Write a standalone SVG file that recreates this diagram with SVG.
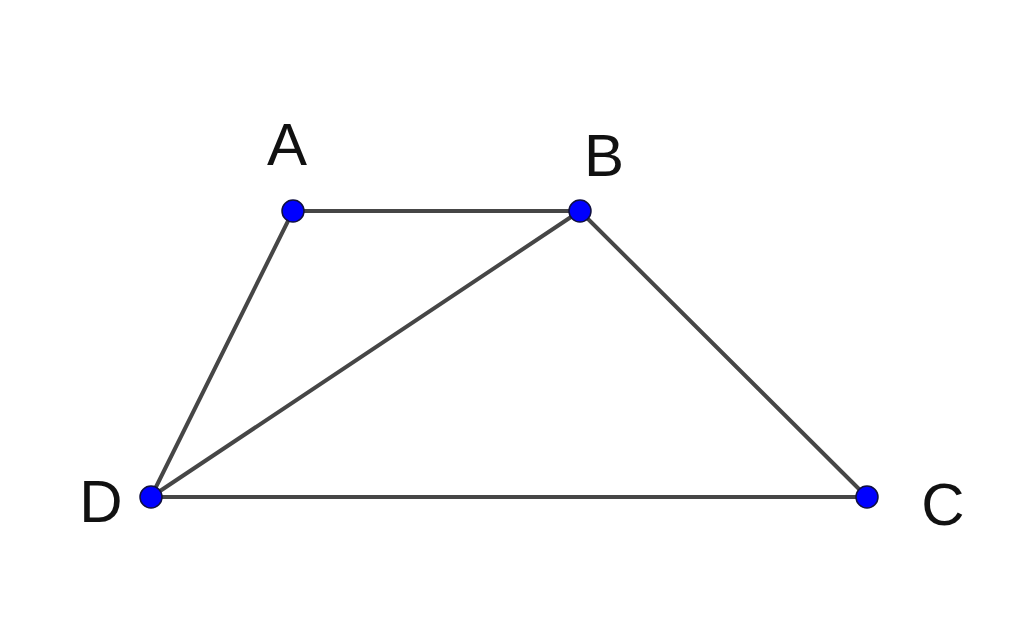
<svg xmlns="http://www.w3.org/2000/svg" width="1024" height="621" viewBox="0 0 1024 621">
<style>
.edge{stroke:#464646;stroke-width:4;fill:none;stroke-linecap:round}
.pt{fill:#0000ff;stroke:#101040;stroke-width:1.5}
.lbl{font-family:"Liberation Sans",Arial,sans-serif;font-size:60px;fill:#111;text-anchor:middle}
</style>
<rect width="1024" height="621" fill="#ffffff"/>
<g id="connectors">
<line class="edge" x1="293" y1="211" x2="580" y2="211"/>
<line class="edge" x1="293" y1="211" x2="151" y2="497"/>
<line class="edge" x1="580" y1="211" x2="151" y2="497"/>
<line class="edge" x1="580" y1="211" x2="867" y2="497"/>
<line class="edge" x1="151" y1="497" x2="867" y2="497"/>
</g>
<g id="A"><circle class="pt" cx="293" cy="211" r="11"/><text class="lbl" x="287" y="165">A</text></g>
<g id="B"><circle class="pt" cx="580" cy="211" r="11"/><text class="lbl" x="604" y="176">B</text></g>
<g id="C"><circle class="pt" cx="867" cy="497" r="11"/><text class="lbl" x="943" y="525">C</text></g>
<g id="D"><circle class="pt" cx="151" cy="497" r="11"/><text class="lbl" x="101" y="522">D</text></g>
</svg>
